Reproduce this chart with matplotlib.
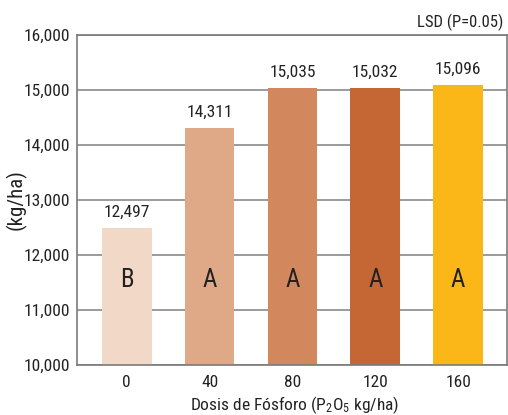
import matplotlib
matplotlib.use("Agg")
import matplotlib.pyplot as plt
from matplotlib.ticker import FuncFormatter

categories = ["0", "40", "80", "120", "160"]
values = [12497, 14311, 15035, 15032, 15096]
letters = ["B", "A", "A", "A", "A"]
colors = ["#F2D9C7", "#DFA886", "#D3875D", "#C46735", "#FBB717"]
yticks = [10000, 11000, 12000, 13000, 14000, 15000, 16000]

plt.rcParams['font.family'] = ['Roboto Condensed', 'DejaVu Sans']
plt.rcParams['mathtext.fontset'] = 'custom'
plt.rcParams['mathtext.rm'] = 'Roboto Condensed'
plt.rcParams['mathtext.it'] = 'Roboto Condensed'
plt.rcParams['mathtext.default'] = 'rm'

W, H = 508, 415
fig = plt.figure(figsize=(W/100, H/100), dpi=100)
ax = fig.add_axes([77/W, 1-365/H, 430/W, 330/H])

x = list(range(len(categories)))
ax.bar(x, [v - 10000 for v in values], bottom=10000, width=0.6, color=colors, zorder=2)
ax.set_xlim(-0.6, 4.59)
ax.set_ylim(10000, 16000)
ax.set_yticks(yticks)
ax.yaxis.set_major_formatter(FuncFormatter(lambda v, p: f"{int(v):,}"))
ax.set_xticks(x)
ax.set_xticklabels(categories)
ax.grid(axis='y', color='#8a8a8a', linewidth=1.2, zorder=1)
ax.set_axisbelow(True)
for s in ax.spines.values():
    s.set_color('#7a7a7a')
    s.set_linewidth(1.2)
ax.tick_params(length=0, labelsize=12.5, colors='#222222', pad=5)
ax.tick_params(axis='x', pad=7)

for xi, v, l in zip(x, values, letters):
    ax.text(xi, v + 150, f"{v:,}", ha='center', va='bottom', fontsize=12.5, color='#222222')
    ax.text(xi, 11550, l, ha='center', va='center', fontsize=18, color='#222222')

ax.set_ylabel("(kg/ha)", fontsize=15, color='#222222')
ax.yaxis.set_label_coords(-50/430, 0.5)
ax.set_xlabel("Dosis de Fósforo (P$_2$O$_5$ kg/ha)", fontsize=12.5, color='#222222')
ax.xaxis.set_label_coords(0.505, -29/330)
fig.text(503/W, 1-22/H, "LSD (P=0.05)", ha='right', va='center', fontsize=12, color='#222222')

fig.savefig("out.png", dpi=100)
